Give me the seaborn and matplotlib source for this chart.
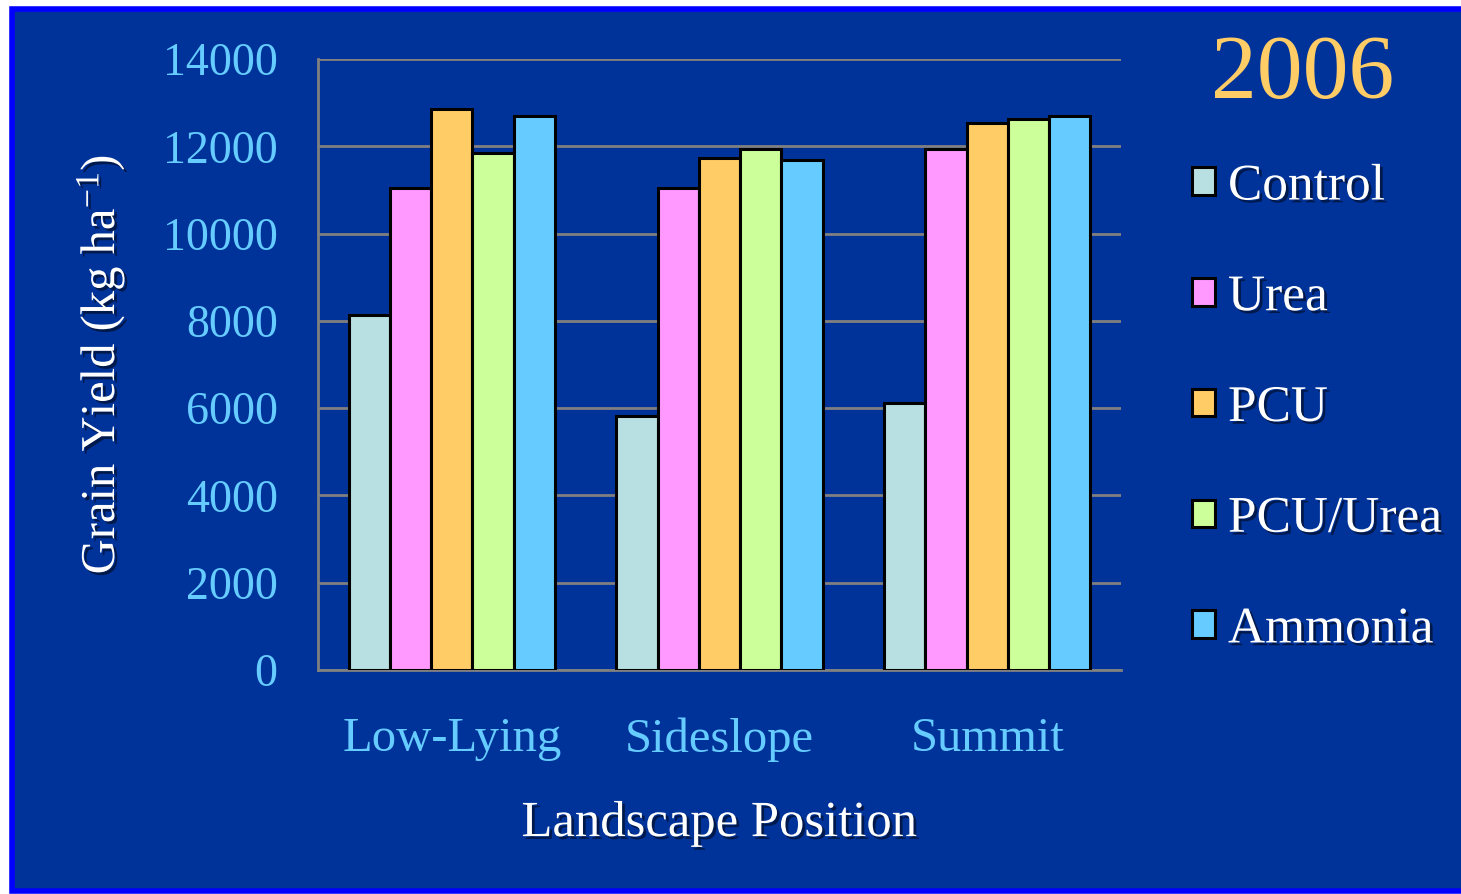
"""Grain yield by landscape position, 2006."""

import matplotlib
matplotlib.use("Agg")
import matplotlib.pyplot as plt
import matplotlib.patheffects as pe
from matplotlib.patches import Rectangle
import pandas as pd
import seaborn as sns

positions = ["Low-Lying", "Sideslope", "Summit"]
treatments = ["Control", "Urea", "PCU", "PCU/Urea", "Ammonia"]
control = [8130, 5820, 6120]
urea = [11050, 11050, 11940]
pcu = [12850, 11730, 12530]
pcu_urea = [11850, 11940, 12620]
ammonia = [12690, 11690, 12690]
colors = ["#b8e0e2", "#ff99ff", "#ffcc66", "#ccff99", "#66ccff"]

BG = "#003399"
GRID = "#808080"
TICK_BLUE = "#66ccff"
FONT = "Liberation Serif"


def main():
    rows = []
    for name, vals in zip(treatments, [control, urea, pcu, pcu_urea, ammonia]):
        for pos, v in zip(positions, vals):
            rows.append({"position": pos, "treatment": name, "yield": v})
    df = pd.DataFrame(rows)

    sns.set_style("white")
    plt.rcParams["font.family"] = [FONT, "DejaVu Serif"]
    plt.rcParams["mathtext.fontset"] = "custom"
    plt.rcParams["mathtext.rm"] = FONT
    plt.rcParams["mathtext.it"] = FONT

    fig = plt.figure(figsize=(14.61, 8.94), dpi=100, facecolor="white")
    # slide background with bright blue border
    fig.patches.append(Rectangle((12 / 1461, 3 / 894), 1.0, 1 - 12 / 894,
                                 transform=fig.transFigure, facecolor=BG,
                                 edgecolor="#0000ff", linewidth=4, zorder=-10))

    ax = fig.add_axes([318 / 1461, 1 - 670 / 894, (1121 - 318) / 1461, (670 - 59) / 894])
    ax.set_facecolor(BG)

    sns.barplot(data=df, x="position", y="yield", hue="treatment",
                order=positions, hue_order=treatments, palette=colors,
                saturation=1, width=0.77, edgecolor="black", linewidth=2.2,
                ax=ax, zorder=3)

    ax.set_ylim(0, 14000)
    ax.set_xlim(-0.5, 2.5)
    ax.set_yticks(range(0, 14001, 2000))
    ax.grid(axis="y", color=GRID, linewidth=2, zorder=0)
    ax.set_axisbelow(True)

    for s in ["top", "right"]:
        ax.spines[s].set_visible(False)
    for s in ["left", "bottom"]:
        ax.spines[s].set_color(GRID)
        ax.spines[s].set_linewidth(2)

    ax.tick_params(axis="y", colors=GRID, length=11, width=2, pad=18,
                   labelcolor=TICK_BLUE, labelsize=33)
    ax.tick_params(axis="x", which="major", length=0, pad=34,
                   labelcolor=TICK_BLUE, labelsize=35)
    ax.set_xticks([-0.5, 0.5, 1.5, 2.5], minor=True)
    ax.tick_params(axis="x", which="minor", length=10, width=2, colors=GRID)

    shadow = [pe.withSimplePatchShadow(offset=(2, -2), shadow_rgbFace="black", alpha=0.5)]
    ax.set_xlabel("Landscape Position", color="white", fontsize=36.5, labelpad=28,
                  path_effects=shadow)
    ax.set_ylabel(r"Grain Yield (kg ha$^{-1}$)", color="white", fontsize=35,
                  labelpad=26, path_effects=shadow)

    fig.text(1303 / 1461, 1 - 76 / 894, "2006", color="#ffcc66", fontsize=66,
             ha="center", va="center")

    handles, labels = ax.get_legend_handles_labels()
    ax.legend_.remove()
    leg = fig.legend(handles, labels, loc="upper left",
                     bbox_to_anchor=(1192 / 1461, 1 - 164 / 894),
                     frameon=False, fontsize=37, handlelength=0.45,
                     handleheight=0.45, handletextpad=0.25, labelspacing=1.25,
                     borderaxespad=0, borderpad=0)
    for t in leg.get_texts():
        t.set_color("white")
        t.set_path_effects(shadow)

    fig.savefig("out.png", dpi=100, facecolor="white")


if __name__ == "__main__":
    main()
